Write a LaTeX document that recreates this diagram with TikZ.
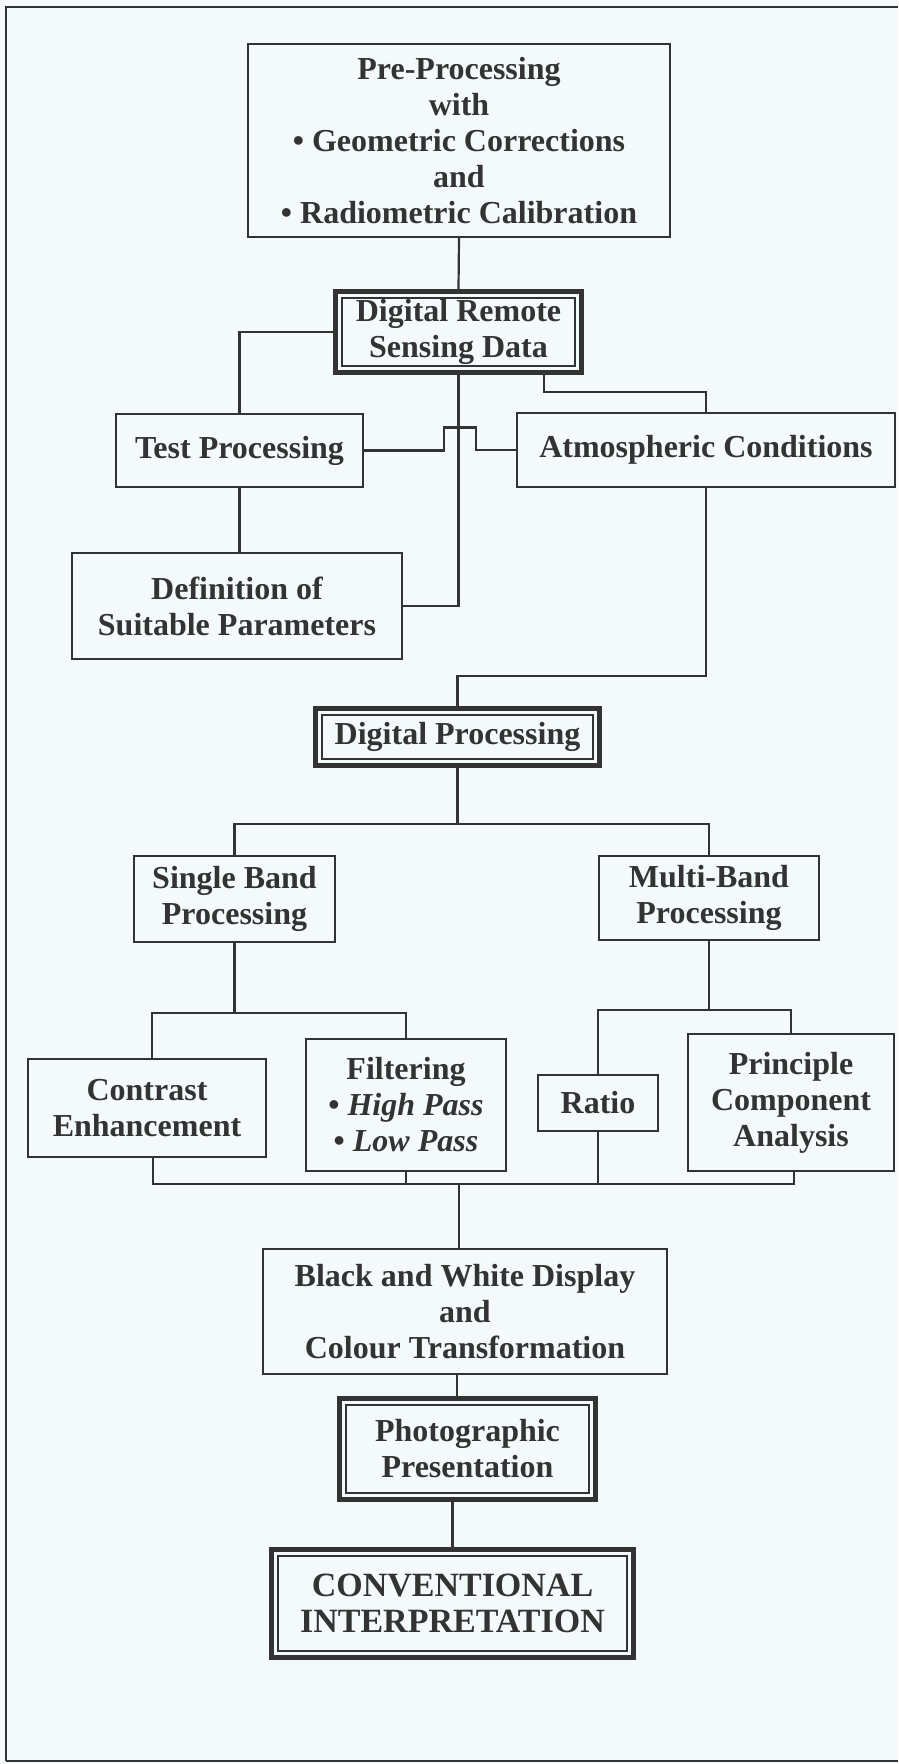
\documentclass[tikz,border=0pt]{standalone}
\usepackage{fontspec}
\setmainfont{Liberation Serif}
\definecolor{ink}{HTML}{333333}
\definecolor{paper}{HTML}{F4FAFC}

\begin{document}
\begin{tikzpicture}[x=1pt, y=-1pt,
    box/.style={draw=ink, line width=2.3pt, fill=paper, align=center, text=ink, inner sep=0pt,
        font=\fontsize{32}{36}\selectfont\bfseries},
    dbox/.style={box, line width=5pt},
    inbox/.style={draw=ink, line width=1.5pt},
    link/.style={draw=ink, line width=2.2pt}]
    % page and frame
    \fill[paper] (0,0) rectangle (898,1764);
    \useasboundingbox (0,0) rectangle (898,1764);
    \draw[ink, line width=2.5pt] (898,7) -- (6,7) -- (6,1761);
    \draw[ink, line width=1.5pt] (6,1761) -- (898,1761);

    % boxes
    \node[box, minimum width=422pt, minimum height=193pt] (pre) at (459,140.5)
        {Pre-Processing\\with\\• Geometric Corrections\\and\\• Radiometric Calibration};
    \node[dbox, minimum width=246pt, minimum height=81pt] (drsd) at (458.5,332)
        {Digital Remote\\Sensing Data};
    \node[box, minimum width=247pt, minimum height=73pt] (test) at (239.5,450.5) {Test Processing};
    \node[box, minimum width=378pt, minimum height=74pt] (atmo) at (706,450) {Atmospheric Conditions};
    \node[box, minimum width=330pt, minimum height=106pt] (defn) at (237,606)
        {Definition of\\Suitable Parameters};
    \node[dbox, minimum width=284pt, minimum height=57pt] (dp) at (457.5,737) {Digital Processing};
    \node[box, minimum width=201pt, minimum height=86pt] (sb) at (234.5,899) {Single Band\\Processing};
    \node[box, minimum width=220pt, minimum height=84pt] (mb) at (709,898) {Multi-Band\\Processing};
    \node[box, minimum width=238pt, minimum height=98pt] (con) at (147,1108) {Contrast\\Enhancement};
    \node[box, minimum width=200pt, minimum height=132pt] (fil) at (406,1105)
        {Filtering\\• \textit{High Pass}\\• \textit{Low Pass}};
    \node[box, minimum width=120pt, minimum height=56pt] (rat) at (598,1103) {Ratio};
    \node[box, minimum width=206pt, minimum height=137pt] (pca) at (791,1102.5)
        {Principle\\Component\\Analysis};
    \node[box, minimum width=404pt, minimum height=125pt] (bw) at (465,1311.5)
        {Black and White Display\\and\\Colour Transformation};
    \node[dbox, minimum width=256pt, minimum height=101pt] (photo) at (467.5,1449)
        {Photographic\\Presentation};
    \node[dbox, minimum width=362pt, minimum height=108pt, font=\fontsize{34}{36}\selectfont\bfseries]
        (conv) at (452.5,1603.5) {CONVENTIONAL\\INTERPRETATION};
    \foreach \n in {drsd,dp,photo,conv}
        \draw[inbox] ([shift={(9pt,-9pt)}]\n.north west) rectangle ([shift={(-9pt,9pt)}]\n.south east);

    % connectors
    \draw[link] (pre.south) -- (drsd.north);
    \draw[link] (drsd.west) -| (test.north);
    \draw[link] (drsd.south) |- (defn.east);
    \draw[link] ([xshift=-40pt]drsd.south east) -- ++(0,17) -| (atmo.north);
    \draw[link] (test.east) -- ++(80,0) -- ++(0,-23) -- ++(32,0) |- (atmo.west);
    \draw[link] (test.south) -- (test.south |- defn.north);
    \draw[link] (atmo.south) -- ++(0,188) -| (dp.north);
    \draw[link] (dp.south) -- ++(0,56) coordinate (split);
    \draw[link] (sb.north) |- (split) -| (mb.north);
    \draw[link] (sb.south) -- ++(0,70) coordinate (sbfork);
    \draw[link] ([xshift=5pt]con.north) |- (sbfork) -| (fil.north);
    \draw[link] (mb.south) -- ++(0,69) coordinate (mbfork);
    \draw[link] (rat.north) |- (mbfork) -| (pca.north);
    \coordinate (bus) at (459,1184);
    \draw[link] ([xshift=6pt]con.south) |- (bus) -| ([xshift=3pt]pca.south);
    \draw[link] (fil.south) -- (fil.south |- bus);
    \draw[link] (rat.south) -- (rat.south |- bus);
    \draw[link] (bus) -- (bus |- bw.north);
    \draw[link] ([xshift=-8pt]bw.south) -- ([xshift=-8pt]bw.south |- photo.north);
    \draw[link] (conv.north |- photo.south) -- (conv.north);
\end{tikzpicture}
\end{document}
